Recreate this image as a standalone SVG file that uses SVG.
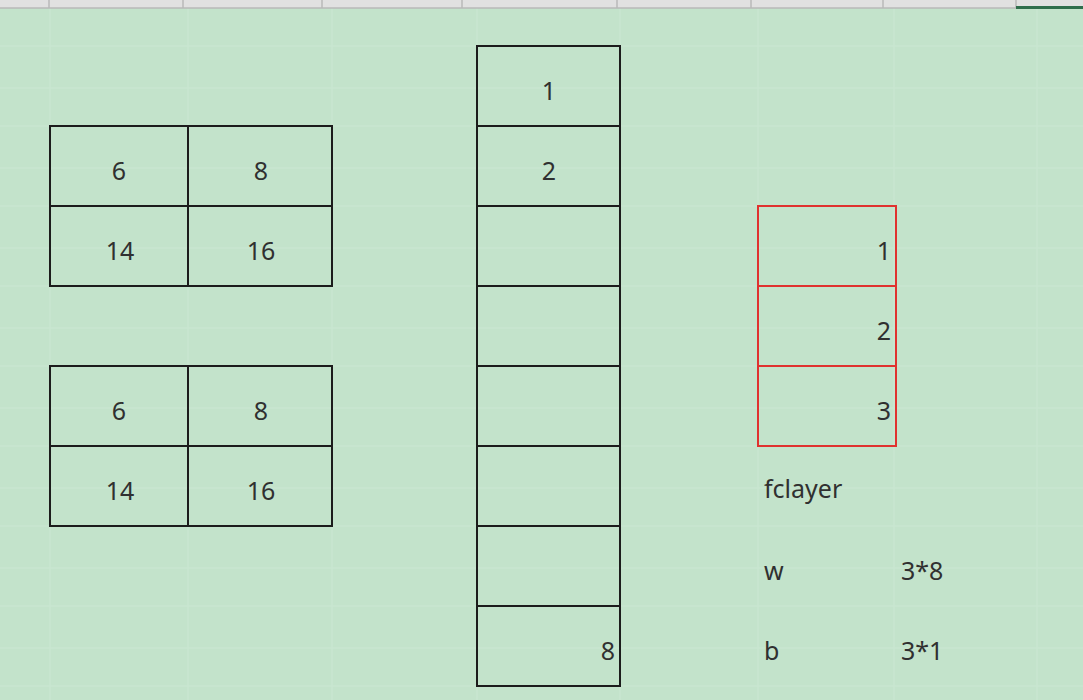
<svg xmlns="http://www.w3.org/2000/svg" width="1083" height="700" viewBox="0 0 1083 700">
<style>
.bg{fill:#c3e3cb}
.grid line{stroke:#c9e6d0;stroke-width:1.5}
.hdr{fill:#e1e1e1}
.hsep{stroke:#b9b9b9;stroke-width:1.5}
.cell{fill:none;stroke:#1c1c1c;stroke-width:2}
.rcell{fill:none;stroke:#e0322f;stroke-width:2}
text{font-family:"Noto Sans","Liberation Sans",sans-serif;font-size:25px;fill:#303030}
.c{text-anchor:middle}
.r{text-anchor:end}
</style>
<rect class="bg" x="0" y="0" width="1083" height="700"/>
<g class="grid">
<line x1="50" y1="8" x2="50" y2="700"/>
<line x1="188" y1="8" x2="188" y2="700"/>
<line x1="332" y1="8" x2="332" y2="700"/>
<line x1="477" y1="8" x2="477" y2="700"/>
<line x1="620" y1="8" x2="620" y2="700"/>
<line x1="758" y1="8" x2="758" y2="700"/>
<line x1="894" y1="8" x2="894" y2="700"/>
<line x1="1037" y1="8" x2="1037" y2="700"/>
<line x1="0" y1="46" x2="1083" y2="46"/>
<line x1="0" y1="88" x2="1083" y2="88"/>
<line x1="0" y1="126" x2="1083" y2="126"/>
<line x1="0" y1="168" x2="1083" y2="168"/>
<line x1="0" y1="206" x2="1083" y2="206"/>
<line x1="0" y1="248" x2="1083" y2="248"/>
<line x1="0" y1="286" x2="1083" y2="286"/>
<line x1="0" y1="328" x2="1083" y2="328"/>
<line x1="0" y1="366" x2="1083" y2="366"/>
<line x1="0" y1="408" x2="1083" y2="408"/>
<line x1="0" y1="446" x2="1083" y2="446"/>
<line x1="0" y1="488" x2="1083" y2="488"/>
<line x1="0" y1="526" x2="1083" y2="526"/>
<line x1="0" y1="568" x2="1083" y2="568"/>
<line x1="0" y1="606" x2="1083" y2="606"/>
<line x1="0" y1="648" x2="1083" y2="648"/>
<line x1="0" y1="686" x2="1083" y2="686"/>
</g>
<g id="header">
<rect class="hdr" x="0" y="0" width="1083" height="8"/>
<line class="hsep" x1="0" y1="8" x2="1083" y2="8"/>
<line class="hsep" x1="49" y1="0" x2="49" y2="8"/>
<line class="hsep" x1="183" y1="0" x2="183" y2="8"/>
<line class="hsep" x1="322" y1="0" x2="322" y2="8"/>
<line class="hsep" x1="462" y1="0" x2="462" y2="8"/>
<line class="hsep" x1="617" y1="0" x2="617" y2="8"/>
<line class="hsep" x1="751" y1="0" x2="751" y2="8"/>
<line class="hsep" x1="883" y1="0" x2="883" y2="8"/>
<line class="hsep" x1="1016" y1="0" x2="1016" y2="8"/>
<rect x="1016" y="6" width="67" height="3" fill="#2f6e4c"/>
</g>
<g id="table1">
<rect class="cell" x="50" y="126" width="282" height="160"/>
<line class="cell" x1="188" y1="126" x2="188" y2="286"/>
<line class="cell" x1="50" y1="206" x2="332" y2="206"/>
<text class="c" x="119" y="180">6</text>
<text class="c" x="261" y="180">8</text>
<text class="c" x="120" y="260">14</text>
<text class="c" x="261" y="260">16</text>
</g>
<g id="table2">
<rect class="cell" x="50" y="366" width="282" height="160"/>
<line class="cell" x1="188" y1="366" x2="188" y2="526"/>
<line class="cell" x1="50" y1="446" x2="332" y2="446"/>
<text class="c" x="119" y="420">6</text>
<text class="c" x="261" y="420">8</text>
<text class="c" x="120" y="500">14</text>
<text class="c" x="261" y="500">16</text>
</g>
<g id="flatten">
<rect class="cell" x="477" y="46" width="143" height="640"/>
<line class="cell" x1="477" y1="126" x2="620" y2="126"/>
<line class="cell" x1="477" y1="206" x2="620" y2="206"/>
<line class="cell" x1="477" y1="286" x2="620" y2="286"/>
<line class="cell" x1="477" y1="366" x2="620" y2="366"/>
<line class="cell" x1="477" y1="446" x2="620" y2="446"/>
<line class="cell" x1="477" y1="526" x2="620" y2="526"/>
<line class="cell" x1="477" y1="606" x2="620" y2="606"/>
<text class="c" x="549" y="100">1</text>
<text class="c" x="549" y="180">2</text>
<text class="r" x="615" y="660">8</text>
</g>
<g id="output">
<rect class="rcell" x="758" y="206" width="138" height="240"/>
<line class="rcell" x1="758" y1="286" x2="896" y2="286"/>
<line class="rcell" x1="758" y1="366" x2="896" y2="366"/>
<text class="r" x="891" y="260">1</text>
<text class="r" x="891" y="340">2</text>
<text class="r" x="891" y="420">3</text>
</g>
<g id="labels">
<text x="764" y="498">fclayer</text>
<text x="764" y="580">w</text>
<text x="901" y="580">3*8</text>
<text x="764" y="660">b</text>
<text x="901" y="660">3*1</text>
</g>
</svg>
